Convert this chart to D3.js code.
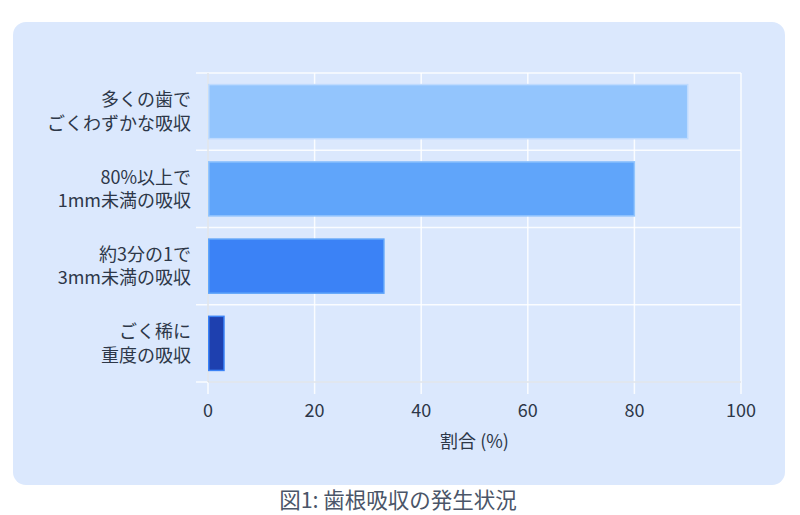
<!DOCTYPE html>
<html><head><meta charset="utf-8">
<script src="https://cdn.jsdelivr.net/npm/d3@7"></script>
<style>
html,body{margin:0;padding:0;background:#fff;}
svg{display:block;}
text{font-family:"Noto Sans CJK JP","Noto Sans",sans-serif;}
</style></head>
<body><svg id="c" width="800" height="515"></svg>
<script>
const categories = [["多くの歯で","ごくわずかな吸収"],["80%以上で","1mm未満の吸収"],["約3分の1で","3mm未満の吸収"],["ごく稀に","重度の吸収"]];
const values = [90, 80, 33, 3];
const fills = ["#93c5fd","#60a5fa","#3b82f6","#1e40af"];
const strokes = ["#bfdbfe","#93c5fd","#60a5fa","#3b82f6"];
const xTicks = [0,20,40,60,80,100];
const xTitle = "割合 (%)";
const caption = "図1: 歯根吸収の発生状況";

const svg = d3.select("#c");
svg.append("rect").attr("x",13).attr("y",22).attr("width",772).attr("height",463).attr("rx",13).attr("fill","#dbe8fd");

const L=208,R=741,T=73,B=382;
const x = d3.scaleLinear().domain([0,100]).range([L,R]);
const y = d3.scaleBand().domain(d3.range(categories.length)).range([T,B]).paddingInner(0).paddingOuter(0);

const g = svg.append("g");
g.selectAll(".vg").data(xTicks).enter().append("line")
 .attr("x1",d=>x(d)).attr("x2",d=>x(d)).attr("y1",T).attr("y2",B+12)
 .attr("stroke","rgba(255,255,255,0.85)").attr("stroke-width",1.5);
const hb = d3.range(categories.length+1).map(i=> i<categories.length ? y(i) : B);
g.selectAll(".hg").data(hb).enter().append("line")
 .attr("x1",L-12).attr("x2",R).attr("y1",d=>d).attr("y2",d=>d)
 .attr("stroke","rgba(255,255,255,0.85)").attr("stroke-width",1.5);
g.append("line").attr("x1",L).attr("x2",L).attr("y1",T).attr("y2",B).attr("stroke","#cfd6e0").attr("stroke-width",1);
g.append("line").attr("x1",L).attr("x2",R).attr("y1",B).attr("y2",B).attr("stroke","#cfd6e0").attr("stroke-width",1);

const bh = y.bandwidth()*0.7;
g.selectAll(".bar").data(values).enter().append("rect")
 .attr("x",x(0)+0.75).attr("y",(d,i)=>y(i)+(y.bandwidth()-bh)/2)
 .attr("width",d=>x(d)-x(0)-0.75).attr("height",bh)
 .attr("fill",(d,i)=>fills[i]).attr("stroke",(d,i)=>strokes[i]).attr("stroke-width",1.5);

g.selectAll(".xt").data(xTicks).enter().append("text")
 .attr("x",d=>x(d)).attr("y",416.5).attr("text-anchor","middle")
 .attr("font-size",18).attr("fill","#2d3748").text(d=>d);
categories.forEach((lines,i)=>{
  const cy = y(i)+y.bandwidth()/2;
  lines.forEach((t,j)=>{
    g.append("text").attr("x",191).attr("y",cy + (j-0.5)*23.5 + 6.5)
     .attr("text-anchor","end").attr("font-size",18).attr("fill","#2d3748").text(t);
  });
});
g.append("text").attr("x",(L+R)/2).attr("y",447.5).attr("text-anchor","middle")
 .attr("font-size",18).attr("fill","#2d3748").text(xTitle);
svg.append("text").attr("x",398).attr("y",507.5).attr("text-anchor","middle")
 .attr("font-size",21.5).attr("fill","#4a5568").text(caption);
</script></body></html>
